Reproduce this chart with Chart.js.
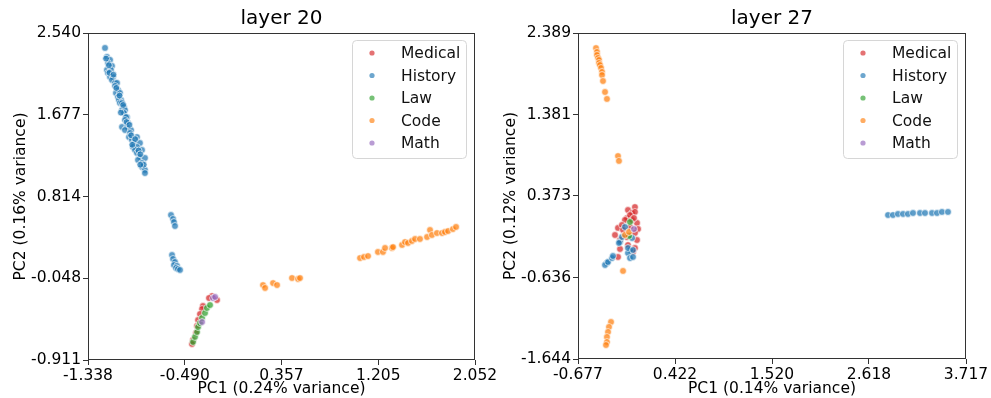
<!DOCTYPE html>
<html>
<head>
<meta charset="utf-8">
<script src="https://cdn.jsdelivr.net/npm/chart.js@4.4.1/dist/chart.umd.min.js"></script>
<style>
html, body { margin: 0; padding: 0; background: #fff; }
#wrap { position: relative; width: 991px; height: 398px; overflow: hidden; }
canvas { position: absolute; top: 0; }
</style>
</head>
<body>
<div id="wrap">
  <canvas id="capa20" width="520" height="398" style="left:0"></canvas>
  <canvas id="capa27" width="496" height="398" style="left:495px"></canvas>
</div>
<script>
// Categorías y colores (tab10)
const categorias = ['Medical', 'History', 'Law', 'Code', 'Math'];
const colores = ['214,39,40', '31,119,180', '44,160,44', '255,127,14', '148,103,189'];

// ---- layer 20 ----
const ticksX20 = [-1.338, -0.490, 0.357, 1.205, 2.052];
const ticksY20 = [-0.911, -0.048, 0.814, 1.677, 2.540];
const medical20 = [[-0.252,-0.236],[-0.208,-0.278],[-0.278,-0.257],[-0.331,-0.341],[-0.339,-0.373],
  [-0.357,-0.426],[-0.374,-0.489],[-0.383,-0.552],[-0.392,-0.626],[-0.418,-0.700],[-0.427,-0.742]];
const history20 = [[-1.189,2.382],[-1.172,2.287],[-1.145,2.256],[-1.163,2.223],[-1.128,2.192],[-1.172,2.150],
  [-1.137,2.150],[-1.163,2.118],[-1.145,2.076],[-1.119,2.076],[-1.128,2.044],[-1.101,2.013],[-1.084,2.013],
  [-1.101,1.981],[-1.075,1.938],[-1.093,1.907],[-1.058,1.907],[-1.075,1.865],[-1.049,1.833],[-1.067,1.833],
  [-1.058,1.801],[-1.040,1.801],[-1.023,1.759],[-1.040,1.727],[-1.014,1.727],[-1.023,1.696],[-0.996,1.653],
  [-1.005,1.653],[-1.014,1.622],[-0.988,1.590],[-1.040,1.548],[-0.996,1.548],[-1.014,1.516],[-0.961,1.516],
  [-0.970,1.485],[-0.979,1.442],[-0.909,1.442],[-0.953,1.411],[-0.935,1.379],[-0.883,1.379],[-0.944,1.337],
  [-0.909,1.337],[-0.865,1.305],[-0.926,1.305],[-0.909,1.274],[-0.883,1.231],[-0.839,1.221],[-0.900,1.200],
  [-0.865,1.168],[-0.865,1.126],[-0.839,1.094],[-0.839,1.062],
  [-1.180,2.270],[-1.155,2.200],[-1.150,2.120],[-1.115,2.100],[-1.090,1.960],[-1.062,1.880],[-1.030,1.780],
  [-1.050,1.700],[-1.000,1.600],[-0.975,1.570],[-0.960,1.460],[-0.925,1.420],[-0.950,1.360],[-0.895,1.300],
  [-0.880,1.260],[-0.850,1.150],[-0.880,1.150],
  [-0.611,0.619],[-0.593,0.577],[-0.585,0.545],[-0.576,0.503],
  [-0.602,0.197],[-0.593,0.155],[-0.576,0.123],[-0.585,0.091],[-0.558,0.081],[-0.567,0.060],[-0.550,0.049],[-0.532,0.039]];
const law20 = [[-0.418,-0.721],[-0.401,-0.668],[-0.383,-0.616],[-0.374,-0.563],[-0.357,-0.521],
  [-0.339,-0.468],[-0.313,-0.415],[-0.296,-0.362],[-0.269,-0.331]];
const code20 = [[0.195,-0.120],[0.213,-0.151],[0.283,-0.099],[0.318,-0.120],[0.449,-0.046],[0.502,-0.056],[0.519,-0.046],
  [1.045,0.165],[1.080,0.176],[1.115,0.186],[1.202,0.229],[1.246,0.229],[1.264,0.271],[1.325,0.271],[1.334,0.281],
  [1.413,0.303],[1.439,0.334],[1.465,0.324],[1.500,0.345],[1.527,0.366],[1.570,0.366],[1.632,0.387],[1.658,0.461],
  [1.675,0.408],[1.719,0.429],[1.763,0.429],[1.789,0.440],[1.816,0.450],[1.859,0.471],[1.886,0.493]];
const math20 = [[-0.243,-0.257],[-0.225,-0.246],[-0.339,-0.510]];

// ---- layer 27 ----
const ticksX27 = [-0.677, 0.422, 1.520, 2.618, 3.717];
const ticksY27 = [-1.644, -0.636, 0.373, 1.381, 2.389];
const medical27 = [[-0.032,0.236],[-0.111,0.199],[-0.065,0.162],[-0.122,0.100],[-0.032,0.175],[-0.009,0.039],
  [0.003,-0.036],[-0.224,-0.023],[-0.258,-0.110],[-0.201,-0.283],[-0.224,-0.382],[-0.032,-0.271],[-0.054,-0.320],
  [-0.088,0.137],[-0.145,0.076],[-0.179,0.014],[-0.065,0.076],[-0.043,0.100],[-0.088,-0.011],[-0.167,-0.048],
  [-0.122,-0.135],[-0.009,-0.172],[-0.111,-0.234],[-0.032,-0.085],[-0.201,-0.172]];
const history27 = [[-0.349,-0.456],[-0.371,-0.481],[-0.337,-0.444],[-0.292,-0.395],[-0.281,-0.370],[-0.201,-0.196],
  [-0.065,-0.147],[-0.088,-0.296],[-0.111,-0.333],[-0.088,-0.395],[-0.054,-0.382],[-0.179,-0.135],[-0.145,-0.011],
  [-0.111,-0.271],[-0.054,-0.296],[-0.213,-0.209],
  [2.834,0.137],[2.890,0.137],[2.947,0.150],[3.004,0.150],[3.060,0.150],[3.117,0.162],[3.196,0.162],
  [3.253,0.162],[3.332,0.162],[3.389,0.162],[3.445,0.175],[3.513,0.175]];
const law27 = [[-0.088,0.051],[-0.099,-0.122]];
const code27 = [[-0.473,2.203],[-0.462,2.154],[-0.462,2.117],[-0.450,2.080],[-0.439,2.055],[-0.439,2.018],
  [-0.428,1.993],[-0.416,1.956],[-0.405,1.907],[-0.405,1.869],[-0.394,1.795],[-0.371,1.659],[-0.349,1.573],
  [-0.224,0.867],[-0.213,0.806],[-0.145,-0.110],[-0.099,-0.073],[-0.167,-0.555],
  [-0.303,-1.186],[-0.326,-1.248],[-0.337,-1.310],[-0.349,-1.372],[-0.349,-1.434],[-0.360,-1.471]];
const math27 = [[-0.043,-0.036]];

Chart.defaults.font.family = '"DejaVu Sans"';
Chart.defaults.color = '#000';

// Marco completo y leyenda dentro del área
const marcoYLeyenda = {
  id: 'marcoYLeyenda',
  afterDraw(chart) {
    const { ctx, chartArea: a } = chart;
    ctx.save();
    ctx.strokeStyle = '#333';
    ctx.lineWidth = 1;
    ctx.strokeRect(Math.round(a.left) + 0.5, Math.round(a.top) + 0.5,
      Math.round(a.right - a.left) - 1, Math.round(a.bottom - a.top) - 1);

    const w = 114, h = 118;
    const x0 = Math.round(a.right - 9 - w), y0 = Math.round(a.top + 7);
    ctx.fillStyle = 'rgba(255,255,255,0.8)';
    ctx.strokeStyle = '#d6d6d6';
    ctx.beginPath();
    ctx.roundRect(x0 + 0.5, y0 + 0.5, w, h, 4);
    ctx.fill();
    ctx.stroke();
    ctx.font = '15.5px "DejaVu Sans"';
    ctx.textBaseline = 'middle';
    categorias.forEach((c, i) => {
      const y = y0 + 13 + i * 22.5;
      ctx.fillStyle = 'rgba(' + colores[i] + ',0.65)';
      ctx.beginPath();
      ctx.arc(x0 + 20, y, 2.6, 0, Math.PI * 2);
      ctx.fill();
      ctx.fillStyle = '#111';
      ctx.fillText(c, x0 + 49, y + 1);
    });
    ctx.restore();
  }
};

function ejeLineal(ticks, extra) {
  return Object.assign({
    type: 'linear',
    min: ticks[0],
    max: ticks[ticks.length - 1],
    afterBuildTicks: s => { s.ticks = ticks.map(v => ({ value: v })); },
    ticks: { callback: v => v.toFixed(3), color: '#000', font: { size: 15.5 }, padding: 2, maxRotation: 0, autoSkip: false },
    grid: { drawOnChartArea: false, tickLength: 5, color: '#333' },
    border: { display: false }
  }, extra);
}

function crearGrafico(id, titulo, series, tx, ty, tituloX, tituloY, m) {
  const ctx = document.getElementById(id).getContext('2d');
  new Chart(ctx, {
    type: 'scatter',
    data: {
      datasets: series.map((d, i) => ({
        label: categorias[i],
        data: d,
        order: series.length - i,
        pointRadius: 3.4,
        pointHoverRadius: 3.4,
        backgroundColor: 'rgba(' + colores[i] + ',0.72)',
        borderColor: 'rgba(255,255,255,0.85)',
        borderWidth: 0.8
      }))
    },
    options: {
      responsive: false,
      animation: false,
      layout: { padding: { top: 0, left: 0, bottom: 0, right: m.derecha } },
      plugins: {
        legend: { display: false },
        tooltip: { enabled: false },
        title: {
          display: true, text: titulo, color: '#000', fullSize: false,
          font: { size: 20, weight: 'normal' }, padding: { top: 7, bottom: 2 }
        }
      },
      scales: {
        x: ejeLineal(tx, {
          afterFit: s => { s.height = m.altoX; },
          title: { display: true, text: tituloX, color: '#000', font: { size: 15.5 }, padding: { top: 0, bottom: 0 } }
        }),
        y: ejeLineal(ty, {
          afterFit: s => { s.width = m.anchoY; },
          title: { display: true, text: tituloY, color: '#000', font: { size: 15.5 }, padding: { top: m.padTituloY, bottom: 0 } }
        })
      }
    },
    plugins: [marcoYLeyenda]
  });
}

crearGrafico('capa20', 'layer 20', [medical20, history20, law20, code20, math20], ticksX20, ticksY20,
  'PC1 (0.24% variance)', 'PC2 (0.16% variance)', { anchoY: 88, altoX: 38, derecha: 45, padTituloY: 12 });
crearGrafico('capa27', 'layer 27', [medical27, history27, law27, code27, math27], ticksX27, ticksY27,
  'PC1 (0.14% variance)', 'PC2 (0.12% variance)', { anchoY: 83, altoX: 39, derecha: 25, padTituloY: 7 });
</script>
</body>
</html>
